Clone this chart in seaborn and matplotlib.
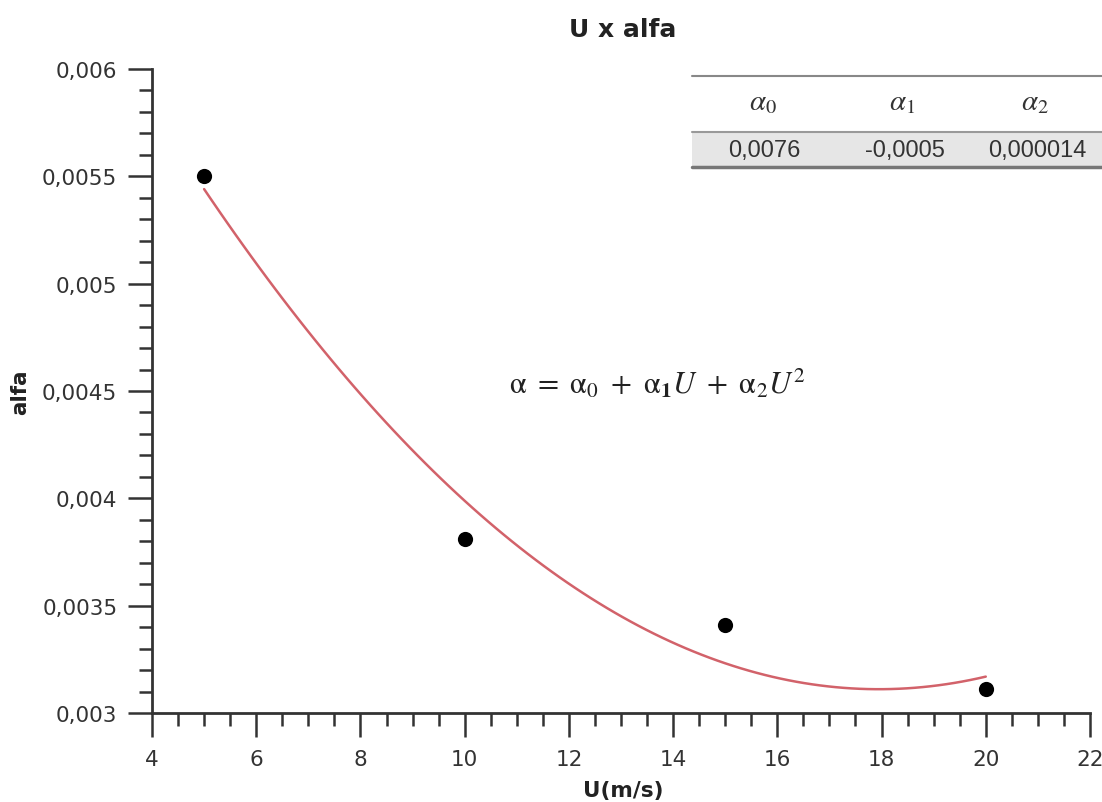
import numpy as np
import pandas as pd
import matplotlib
matplotlib.use("Agg")
import matplotlib.pyplot as plt
import seaborn as sns
from matplotlib.ticker import MultipleLocator, FuncFormatter
from matplotlib.lines import Line2D
from matplotlib.patches import Rectangle

# ---- data ----
u_values = [5, 10, 15, 20]
alfa_values = [0.0055, 0.00381, 0.00341, 0.00311]
coef_labels = [r"$\alpha_0$", r"$\alpha_1$", r"$\alpha_2$"]
coef_values = ["0,0076", "-0,0005", "0,000014"]
title = "U x alfa"
x_label = "U(m/s)"
y_label = "alfa"
equation = (r"$\mathrm{\alpha}\ =\ \mathrm{\alpha}_0\ +\ "
            r"\mathrm{\alpha}_\mathbf{1}U\ +\ \mathrm{\alpha}_2U^2$")

df = pd.DataFrame({"U": u_values, "alfa": alfa_values})

sns.set_style("ticks")
plt.rcParams["font.family"] = ["DejaVu Sans"]
plt.rcParams["mathtext.fontset"] = "stix"

W, H = 1102, 803
fig = plt.figure(figsize=(W / 100, H / 100), dpi=100)
ax = fig.add_axes([152 / W, 1 - 714 / H, (1090 - 152) / W, (714 - 70) / H])

sns.regplot(data=df, x="U", y="alfa", order=2, ci=None, scatter=False,
            line_kws=dict(color="#d2626a", lw=1.8), ax=ax)
sns.scatterplot(data=df, x="U", y="alfa", color="black", s=120,
                edgecolor="black", linewidth=0, ax=ax, zorder=5)

ax.set_xlim(4, 22)
ax.set_ylim(0.003, 0.006)
ax.xaxis.set_major_locator(MultipleLocator(2))
ax.xaxis.set_minor_locator(MultipleLocator(0.5))
ax.yaxis.set_major_locator(MultipleLocator(0.0005))
ax.yaxis.set_minor_locator(MultipleLocator(0.0001))
ax.yaxis.set_major_formatter(FuncFormatter(lambda v, p: f"{v:.4f}".rstrip("0").replace(".", ",")))

for s in ["top", "right"]:
    ax.spines[s].set_visible(False)
for s in ["left", "bottom"]:
    ax.spines[s].set_color("#333333")
    ax.spines[s].set_linewidth(2)

ax.tick_params(which="major", length=17, width=1.8, color="#333333",
               labelsize=15.5, labelcolor="#333333")
ax.tick_params(axis="x", which="major", pad=9)
ax.tick_params(axis="y", which="major", pad=8)
ax.tick_params(which="minor", length=9.5, width=1.8, color="#333333")
ax.set_xlabel("")
ax.set_ylabel("")

fig.text(623 / W, 1 - 30 / H, title, ha="center", va="center",
         fontsize=18, fontweight="bold", color="#222222")
fig.text(623 / W, 1 - 791 / H, x_label, ha="center", va="center",
         fontsize=15.5, fontweight="bold", color="#222222")
fig.text(20 / W, 1 - 392 / H, y_label, ha="center", va="center",
         rotation=90, fontsize=15.5, fontweight="bold", color="#222222")

# equation
fig.text(657 / W, 1 - 383 / H, equation, ha="center", va="center",
         fontsize=22, color="#222222")

# coefficient table
x0, x1 = 692 / W, 1.0
fig.add_artist(Rectangle((x0, 1 - 168 / H), x1 - x0, 35 / H,
                         transform=fig.transFigure, facecolor="#e6e6e6",
                         edgecolor="none"))
for ypx, col, lw in [(77, "#888888", 1.5), (133, "#999999", 1.5), (168, "#777777", 2.5)]:
    fig.add_artist(Line2D([x0, x1], [1 - ypx / H] * 2, transform=fig.transFigure,
                          color=col, lw=lw))
head_x = [763, 902, 1035]
val_x = [764, 905, 1037]
for hx, lab in zip(head_x, coef_labels):
    fig.text(hx / W, 1 - 102 / H, lab, ha="center", va="center",
             fontsize=21, color="#333333")
for vx, val in zip(val_x, coef_values):
    fig.text(vx / W, 1 - 151 / H, val, ha="center", va="center",
             fontsize=17, color="#333333", family=["Liberation Sans"])

fig.savefig("out.png", dpi=100)
